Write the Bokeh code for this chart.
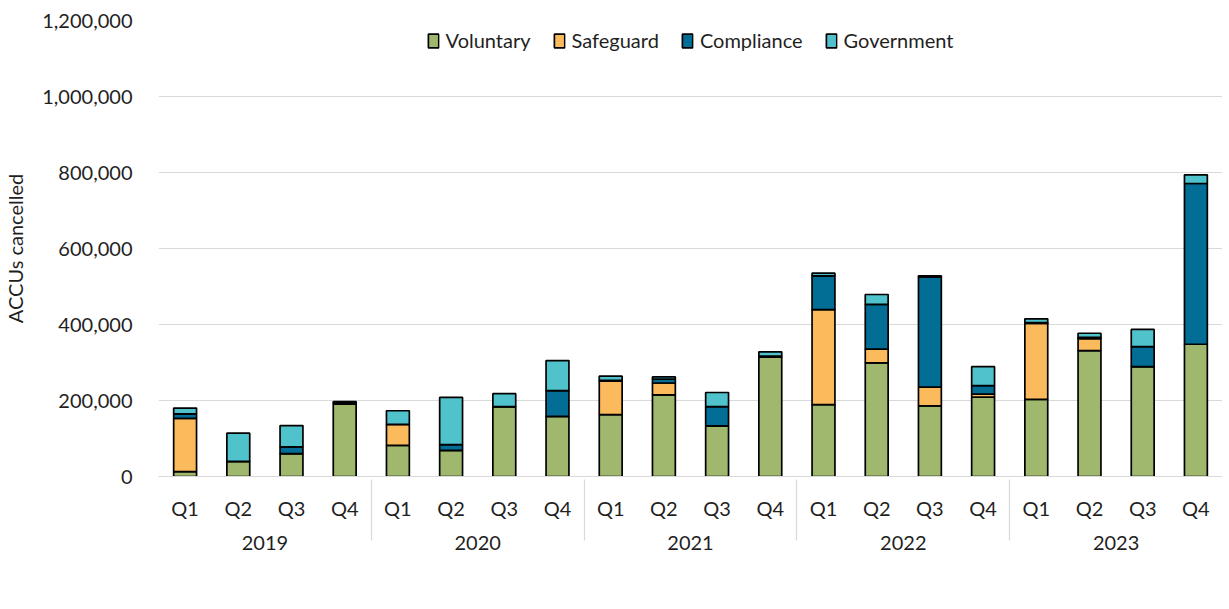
from bokeh.plotting import figure
from bokeh.models import (ColumnDataSource, FactorRange, Range1d, Legend, LegendItem,
                          NumeralTickFormatter)
from bokeh.embed import file_html
from bokeh.resources import INLINE

years = ["2019", "2020", "2021", "2022", "2023"]
quarters = ["Q1", "Q2", "Q3", "Q4"]
series = ["Voluntary", "Safeguard", "Compliance", "Government"]

voluntary = [13000, 40000, 60000, 191000,
             82000, 69000, 184000, 158000,
             163000, 215000, 133000, 314000,
             189000, 299000, 186000, 209000,
             203000, 331000, 289000, 348000]
safeguard = [140000, 0, 0, 0,
             55000, 0, 0, 0,
             88000, 31000, 0, 0,
             250000, 36000, 49000, 8000,
             200000, 32000, 0, 0]
compliance = [12000, 0, 18000, 5000,
              0, 15000, 0, 68000,
              2000, 10000, 51000, 3000,
              89000, 118000, 290000, 22000,
              2000, 3000, 53000, 423000]
government = [15000, 74000, 56000, 1000,
              36000, 124000, 34000, 79000,
              11000, 6000, 37000, 11000,
              7000, 26000, 3000, 50000,
              10000, 11000, 45000, 23000]

colors = ["#9fb86e", "#fbba5c", "#026e96", "#50c2cb"]
y_ticks = [0, 200000, 400000, 600000, 800000, 1000000, 1200000]

FONT = "Lato"
TXT = "#1f1f1f"

factors = [(y, q) for y in years for q in quarters]
source = ColumnDataSource(dict(x=factors, Voluntary=voluntary, Safeguard=safeguard,
                               Compliance=compliance, Government=government))

p = figure(x_range=FactorRange(*factors, factor_padding=0, group_padding=0, range_padding=0),
           y_range=Range1d(0, 1200000),
           frame_width=1064, frame_height=456, output_backend="svg", toolbar_location=None,
           min_border_left=10, min_border_right=0, min_border_top=20, min_border_bottom=10)

renderers = p.vbar_stack(series, x="x", width=0.43, color=colors, line_color="black",
                         line_width=1.7, source=source)

legend = Legend(items=[LegendItem(label=n, renderers=[r]) for n, r in zip(series, renderers)],
                orientation="horizontal", location="top_center",
                label_text_font=FONT, label_text_font_size="20px", label_text_color=TXT,
                glyph_width=13, glyph_height=17, spacing=22, label_standoff=6,
                label_height=20,
                border_line_color=None, background_fill_color="white",
                background_fill_alpha=1, padding=2, margin=8)
p.add_layout(legend, "center")

p.outline_line_color = None
p.xgrid.grid_line_color = None
p.ygrid.grid_line_color = "#d9d9d9"
p.ygrid.grid_line_width = 1.2

p.yaxis.ticker = y_ticks
p.yaxis.formatter = NumeralTickFormatter(format="0,0")
p.yaxis.axis_line_color = None
p.yaxis.major_tick_line_color = None
p.yaxis.minor_tick_line_color = None
p.yaxis.major_label_text_font = FONT
p.yaxis.major_label_text_font_size = "20px"
p.yaxis.major_label_text_color = TXT
p.yaxis.major_label_standoff = 20
p.yaxis.axis_label = "ACCUs cancelled"
p.yaxis.axis_label_text_font = FONT
p.yaxis.axis_label_text_font_size = "20px"
p.yaxis.axis_label_text_font_style = "normal"
p.yaxis.axis_label_text_color = TXT
p.yaxis.axis_label_standoff = 12

p.xaxis.axis_line_color = "#d9d9d9"
p.xaxis.axis_line_width = 1.2
p.xaxis.major_tick_line_color = None
p.xaxis.minor_tick_line_color = None
p.xaxis.major_label_text_font = FONT
p.xaxis.major_label_text_font_size = "20px"
p.xaxis.major_label_text_color = TXT
p.xaxis.major_label_standoff = 13
p.xaxis.group_text_font = FONT
p.xaxis.group_text_font_size = "20px"
p.xaxis.group_text_font_style = "normal"
p.xaxis.group_text_color = TXT
p.xaxis.separator_line_color = "#d9d9d9"
p.xaxis.separator_line_width = 1.2

open("out.html", "w").write(file_html(p, INLINE))
